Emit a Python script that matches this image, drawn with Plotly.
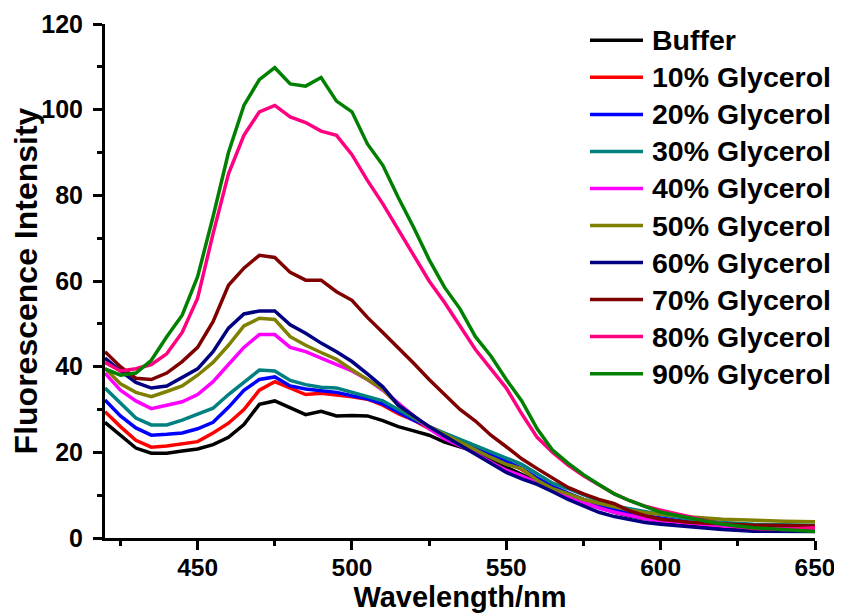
import plotly.graph_objects as go

wavelength = [420, 425, 430, 435, 440, 445, 450, 455, 460, 465, 470, 475, 480, 485, 490,
              495, 500, 505, 510, 515, 520, 525, 530, 535, 540, 545, 550, 555, 560, 565,
              570, 575, 580, 585, 590, 595, 600, 610, 620, 630, 640, 650]

buffer = [27, 24, 21, 19.8, 19.8, 20.3, 20.8, 21.8, 23.5, 26.5, 31.2, 32, 30.5, 28.8, 29.6,
          28.5, 28.6, 28.5, 27.4, 26, 25, 24, 22.4, 21.4, 20.2, 18.2, 16.5, 15, 13.3, 11.5,
          9.8, 8.3, 7.1, 6, 5.1, 4.4, 3.9, 3.1, 2.6, 2.2, 2.0, 1.9]
g10 = [29.5, 26, 22.8, 21.2, 21.5, 22, 22.5, 24.5, 26.8, 30, 34.5, 36.5, 35, 33.5, 33.8,
       33.5, 33, 32.4, 31, 29, 27.5, 25.5, 24, 22.5, 21, 19.3, 17.7, 16, 13.8, 12,
       10.3, 9, 7.7, 6.7, 5.7, 5, 4.4, 3.5, 2.8, 2.4, 2.2, 2.1]
g20 = [32.2, 28.5, 25.7, 24, 24.2, 24.5, 25.5, 27, 30.5, 34.5, 37, 37.6, 35.5, 34.8, 34.4,
       34, 33.2, 32.5, 31.3, 29.5, 27.5, 26, 24.2, 22.5, 21, 19.5, 18, 16.3, 14, 12,
       10.5, 9, 7.8, 6.8, 5.8, 5.2, 4.6, 3.6, 3.0, 2.6, 2.3, 2.2]
g30 = [35, 31.5, 28, 26.4, 26.4, 27.5, 28.8, 30.3, 33.5, 36.3, 39.2, 39, 36.8, 35.8, 35.2,
       35, 34, 33, 32, 30, 28, 26, 24.5, 23, 21.5, 20.2, 18.5, 17.2, 15, 12.8,
       11.5, 10, 8.7, 7.5, 6.8, 6.2, 5.5, 4.4, 3.6, 3.2, 3.0, 3.0]
g40 = [38.5, 34.5, 32, 30.2, 31, 31.8, 33.5, 36.5, 40.5, 44.5, 47.5, 47.5, 44.5, 43.5, 42,
       40.5, 39, 37, 34.5, 31.5, 28.5, 25.5, 23.2, 21.5, 19.8, 17.7, 15.8, 14.5, 13, 11.3,
       9.6, 8.2, 7, 6, 5.2, 4.5, 4, 3.3, 2.8, 2.4, 2.2, 2.1]
g50 = [39.6, 36, 34, 33, 34.2, 35.5, 38, 41, 45, 49.5, 51.3, 51, 47, 45, 43.3,
       41.7, 39.3, 36.9, 34.7, 31, 28.3, 26, 24.2, 22.3, 20.7, 18.8, 17.2, 16.2, 13.5, 11.5,
       10.3, 9, 8.1, 7.2, 6.5, 5.9, 5.5, 4.9, 4.4, 4.1, 3.9, 3.8]
g60 = [42, 39, 36.3, 35, 35.5, 37.5, 39.5, 43.5, 49, 52.3, 53, 53, 49.8, 47.8, 45.5,
       43.5, 41.2, 38.3, 35.3, 31, 28.5, 26, 23.8, 21.7, 19.5, 17.3, 15.3, 13.8, 12.5, 10.8,
       9, 7.5, 6, 5, 4.3, 3.6, 3.2, 2.5, 2, 1.6, 1.5, 1.5]
g70 = [43.5, 40, 37.3, 37, 38.5, 41.2, 44.5, 50.5, 59, 63, 66, 65.5, 62, 60.2, 60.2,
       57.5, 55.5, 51.5, 48, 44.5, 40.8, 37, 33.5, 30, 27.3, 24, 21.3, 18.5, 16.2, 14,
       11.8, 10.3, 9, 8, 6.3, 5.2, 4.4, 3.6, 3.2, 3.0, 2.9, 2.8]
g80 = [41, 39, 39.5, 40.5, 43, 48, 56, 71, 85, 94, 99.5, 101, 98.3, 97, 95,
       94, 89.5, 83.5, 78, 72, 66, 60, 55, 49.5, 44, 39.5, 35, 29, 23.5, 20,
       17, 14.5, 12.3, 10.3, 8.7, 7.4, 6.5, 4.8, 3.2, 2.2, 2.0, 2.4]
g90 = [39.5, 38, 38.5, 41.5, 47, 52, 61, 75, 90, 101, 107, 109.8, 106, 105.5, 107.5,
       102, 99.5, 92, 87, 79.5, 72.5, 65, 58.5, 53.5, 47, 42.5, 37, 32, 25.5, 20.5,
       17.5, 14.8, 12.5, 10.3, 8.7, 7.4, 6, 4.6, 3.2, 2.4, 1.9, 1.5]

series_names = ["Buffer", "10% Glycerol", "20% Glycerol", "30% Glycerol", "40% Glycerol",
                "50% Glycerol", "60% Glycerol", "70% Glycerol", "80% Glycerol", "90% Glycerol"]
series_values = [buffer, g10, g20, g30, g40, g50, g60, g70, g80, g90]
series_colors = ["#000000", "#FF0000", "#0000FF", "#008080", "#FF00FF",
                 "#808000", "#000080", "#800000", "#FF0080", "#008000"]

x_ticks = [450, 500, 550, 600, 650]
y_ticks = [0, 20, 40, 60, 80, 100, 120]

FONT = "Arial, Liberation Sans, sans-serif"
# the page body adds an 8px offset, so the figure is 8px smaller in each direction
W, H = 834, 607
ML, MR, MT, MB = 97, 27, 16, 77
PW, PH = W - ML - MR, H - MT - MB
OFF = 8  # page offset used to convert screen pixels to figure pixels

fig = go.Figure()
for name, vals, col in zip(series_names, series_values, series_colors):
    fig.add_trace(go.Scatter(x=wavelength, y=vals, mode="lines", name=name,
                             line=dict(color=col, width=3.5), showlegend=False))

# custom legend (long line samples as in the reference)
row0, row_gap = 40.3, 37.04
for i, (name, col) in enumerate(zip(series_names, series_colors)):
    yc = row0 + i * row_gap - OFF
    yp = (H - MB - yc) / PH
    fig.add_shape(type="line", xref="paper", yref="paper",
                  x0=(590 - OFF - ML) / PW, x1=(643 - OFF - ML) / PW, y0=yp, y1=yp,
                  line=dict(color=col, width=3.5))
    fig.add_annotation(xref="paper", yref="paper", x=(650 - OFF - ML) / PW, y=yp,
                       text=name, showarrow=False, xanchor="left", yanchor="middle",
                       font=dict(family=FONT, size=28.5, color="black", weight="bold"))

axis_common = dict(showline=True, linecolor="black", linewidth=3, ticks="outside",
                   ticklen=9, tickwidth=2.5, tickcolor="black", showgrid=False,
                   zeroline=False, mirror=False)

fig.update_xaxes(range=[420, 650], tickvals=x_ticks, ticklabelstandoff=-3,
                 tickfont=dict(family=FONT, size=24.5, color="black", weight="bold"),
                 minor=dict(ticks="outside", ticklen=5, tickwidth=2.5, tickcolor="black",
                            dtick=25, tick0=425, showgrid=False),
                 title=dict(text="Wavelength/nm", standoff=2,
                            font=dict(family=FONT, size=29, color="black", weight="bold")),
                 **axis_common)
fig.update_yaxes(range=[0, 120], tickvals=y_ticks, ticklabelstandoff=5,
                 tickfont=dict(family=FONT, size=25, color="black", weight="bold"),
                 minor=dict(ticks="outside", ticklen=5, tickwidth=2.5, tickcolor="black",
                            dtick=10, tick0=0, showgrid=False),
                 title=dict(text="Fluorescence Intensity", standoff=0,
                            font=dict(family=FONT, size=32, color="black", weight="bold")),
                 **axis_common)

fig.update_layout(width=W, height=H, margin=dict(l=ML, r=MR, t=MT, b=MB, autoexpand=False),
                  paper_bgcolor="white", plot_bgcolor="white", showlegend=False)

fig.write_html("out.html")
